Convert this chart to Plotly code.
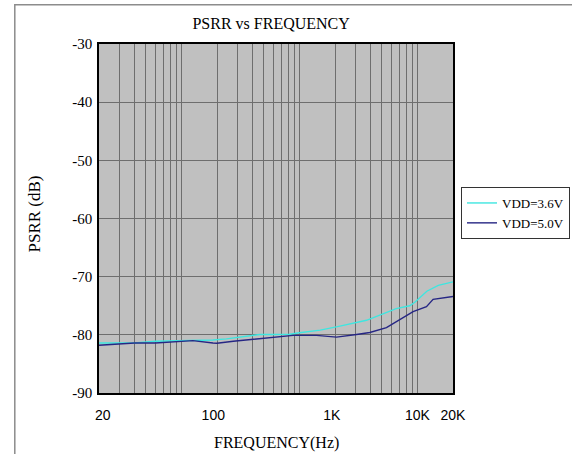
import plotly.graph_objects as go

# PSRR measurements, frequency in Hz and PSRR in dB
freq_36 = [20, 30, 40, 60, 80, 125, 185, 240, 356, 461, 600, 828, 1000, 1500,
           2200, 3700, 5100, 6600, 8600, 9500, 12000, 15000, 20000]
psrr_36 = [-81.4, -81.35, -81.4, -81.1, -81.05, -81.0, -80.9, -80.7, -80.2, -79.95,
           -79.95, -79.9, -79.65, -79.2, -78.5, -77.5, -76.4, -75.5, -75.0, -74.4,
           -72.5, -71.5, -70.9]

freq_50 = [20, 30, 40, 60, 125, 185, 200, 275, 460, 560, 883, 1394, 2060, 3043,
           3944, 5460, 7080, 9180, 11920, 13150, 13560, 20000]
psrr_50 = [-81.8, -81.6, -81.4, -81.4, -81.0, -81.4, -81.45, -81.1, -80.7, -80.5,
           -80.1, -80.1, -80.4, -79.95, -79.6, -78.75, -77.4, -76.0, -75.15, -74.2,
           -73.9, -73.4]

# axis labelling
y_ticks = [-30, -40, -50, -60, -70, -80, -90]
y_tick_text = ["-30", "-40", "-50", "-60", "-70", "-80", "-90"]
x_tick_vals = [21.5, 186, 1878, 10000, 20000]
x_tick_text = ["20", "100", "1K", "10K", "20K"]
x_grid_vals = ([20, 30, 40, 50, 60, 70, 80, 90, 100]
               + [200, 300, 400, 500, 600, 700, 800, 900, 1000]
               + [2000, 3000, 4000, 5000, 6000, 7000, 8000, 9000, 10000, 20000])

SERIF = "Liberation Serif, Times New Roman, serif"
SANS = "Liberation Sans, Arial, sans-serif"

fig = go.Figure()
fig.add_trace(go.Scatter(x=freq_36, y=psrr_36, mode="lines", name="VDD=3.6V",
                         line=dict(color="#3ee6e0", width=1.4)))
fig.add_trace(go.Scatter(x=freq_50, y=psrr_50, mode="lines", name="VDD=5.0V",
                         line=dict(color="#262684", width=1.4)))

fig.update_layout(
    width=572, height=454,
    margin=dict(l=99, r=119, t=44, b=61, autoexpand=False),
    paper_bgcolor="white",
    plot_bgcolor="#c0c0c0",
    title=dict(text="PSRR vs FREQUENCY", x=0.474, xanchor="center",
               y=1 - 23 / 454, yanchor="middle",
               font=dict(family=SERIF, size=16, color="black")),
    showlegend=True,
    legend=dict(xref="container", yref="container",
                x=461 / 572, y=1 - 187 / 454, xanchor="left", yanchor="top",
                bgcolor="white", bordercolor="#333333", borderwidth=1,
                itemwidth=30, tracegroupgap=0,
                font=dict(family=SERIF, size=13, color="black")),
    xaxis=dict(
        type="log", range=[1.30103, 4.30103],
        tickmode="array", tickvals=x_tick_vals, ticktext=x_tick_text,
        showgrid=False, zeroline=False,
        ticks="", ticklabelstandoff=8,
        tickfont=dict(family=SANS, size=14, color="black"),
        showline=True, linecolor="black", linewidth=1.5, mirror=True,
        minor=dict(tickmode="array", tickvals=x_grid_vals, showgrid=True,
                   gridcolor="#6e6e6e", gridwidth=1, ticks=""),
    ),
    yaxis=dict(
        range=[-90, -30],
        tickmode="array", tickvals=y_ticks, ticktext=y_tick_text,
        showgrid=True, gridcolor="#6e6e6e", gridwidth=1, zeroline=False,
        ticks="", ticklabelstandoff=2,
        tickfont=dict(family=SERIF, size=15, color="black"),
        showline=True, linecolor="black", linewidth=1.5, mirror=True,
    ),
    annotations=[
        dict(text="FREQUENCY(Hz)", xref="paper", yref="paper",
             x=0.5, y=(393.3 - 443) / 349, xanchor="center", yanchor="middle",
             showarrow=False, font=dict(family=SERIF, size=16, color="black")),
        dict(text="PSRR (dB)", xref="paper", yref="paper", textangle=-90,
             x=(35 - 99.2) / 354, y=(393.3 - 214) / 349,
             xanchor="center", yanchor="middle",
             showarrow=False, font=dict(family=SERIF, size=17, color="black")),
    ],
    shapes=[
        # outer page frame
        dict(type="rect", xref="paper", yref="paper",
             x0=(15 - 99.2) / 354, x1=(590 - 99.2) / 354,
             y0=(393.3 - 470) / 349, y1=(393.3 - 5) / 349,
             line=dict(color="#8c8c8c", width=1.5), layer="below"),
    ],
)

fig.write_html("out.html")
